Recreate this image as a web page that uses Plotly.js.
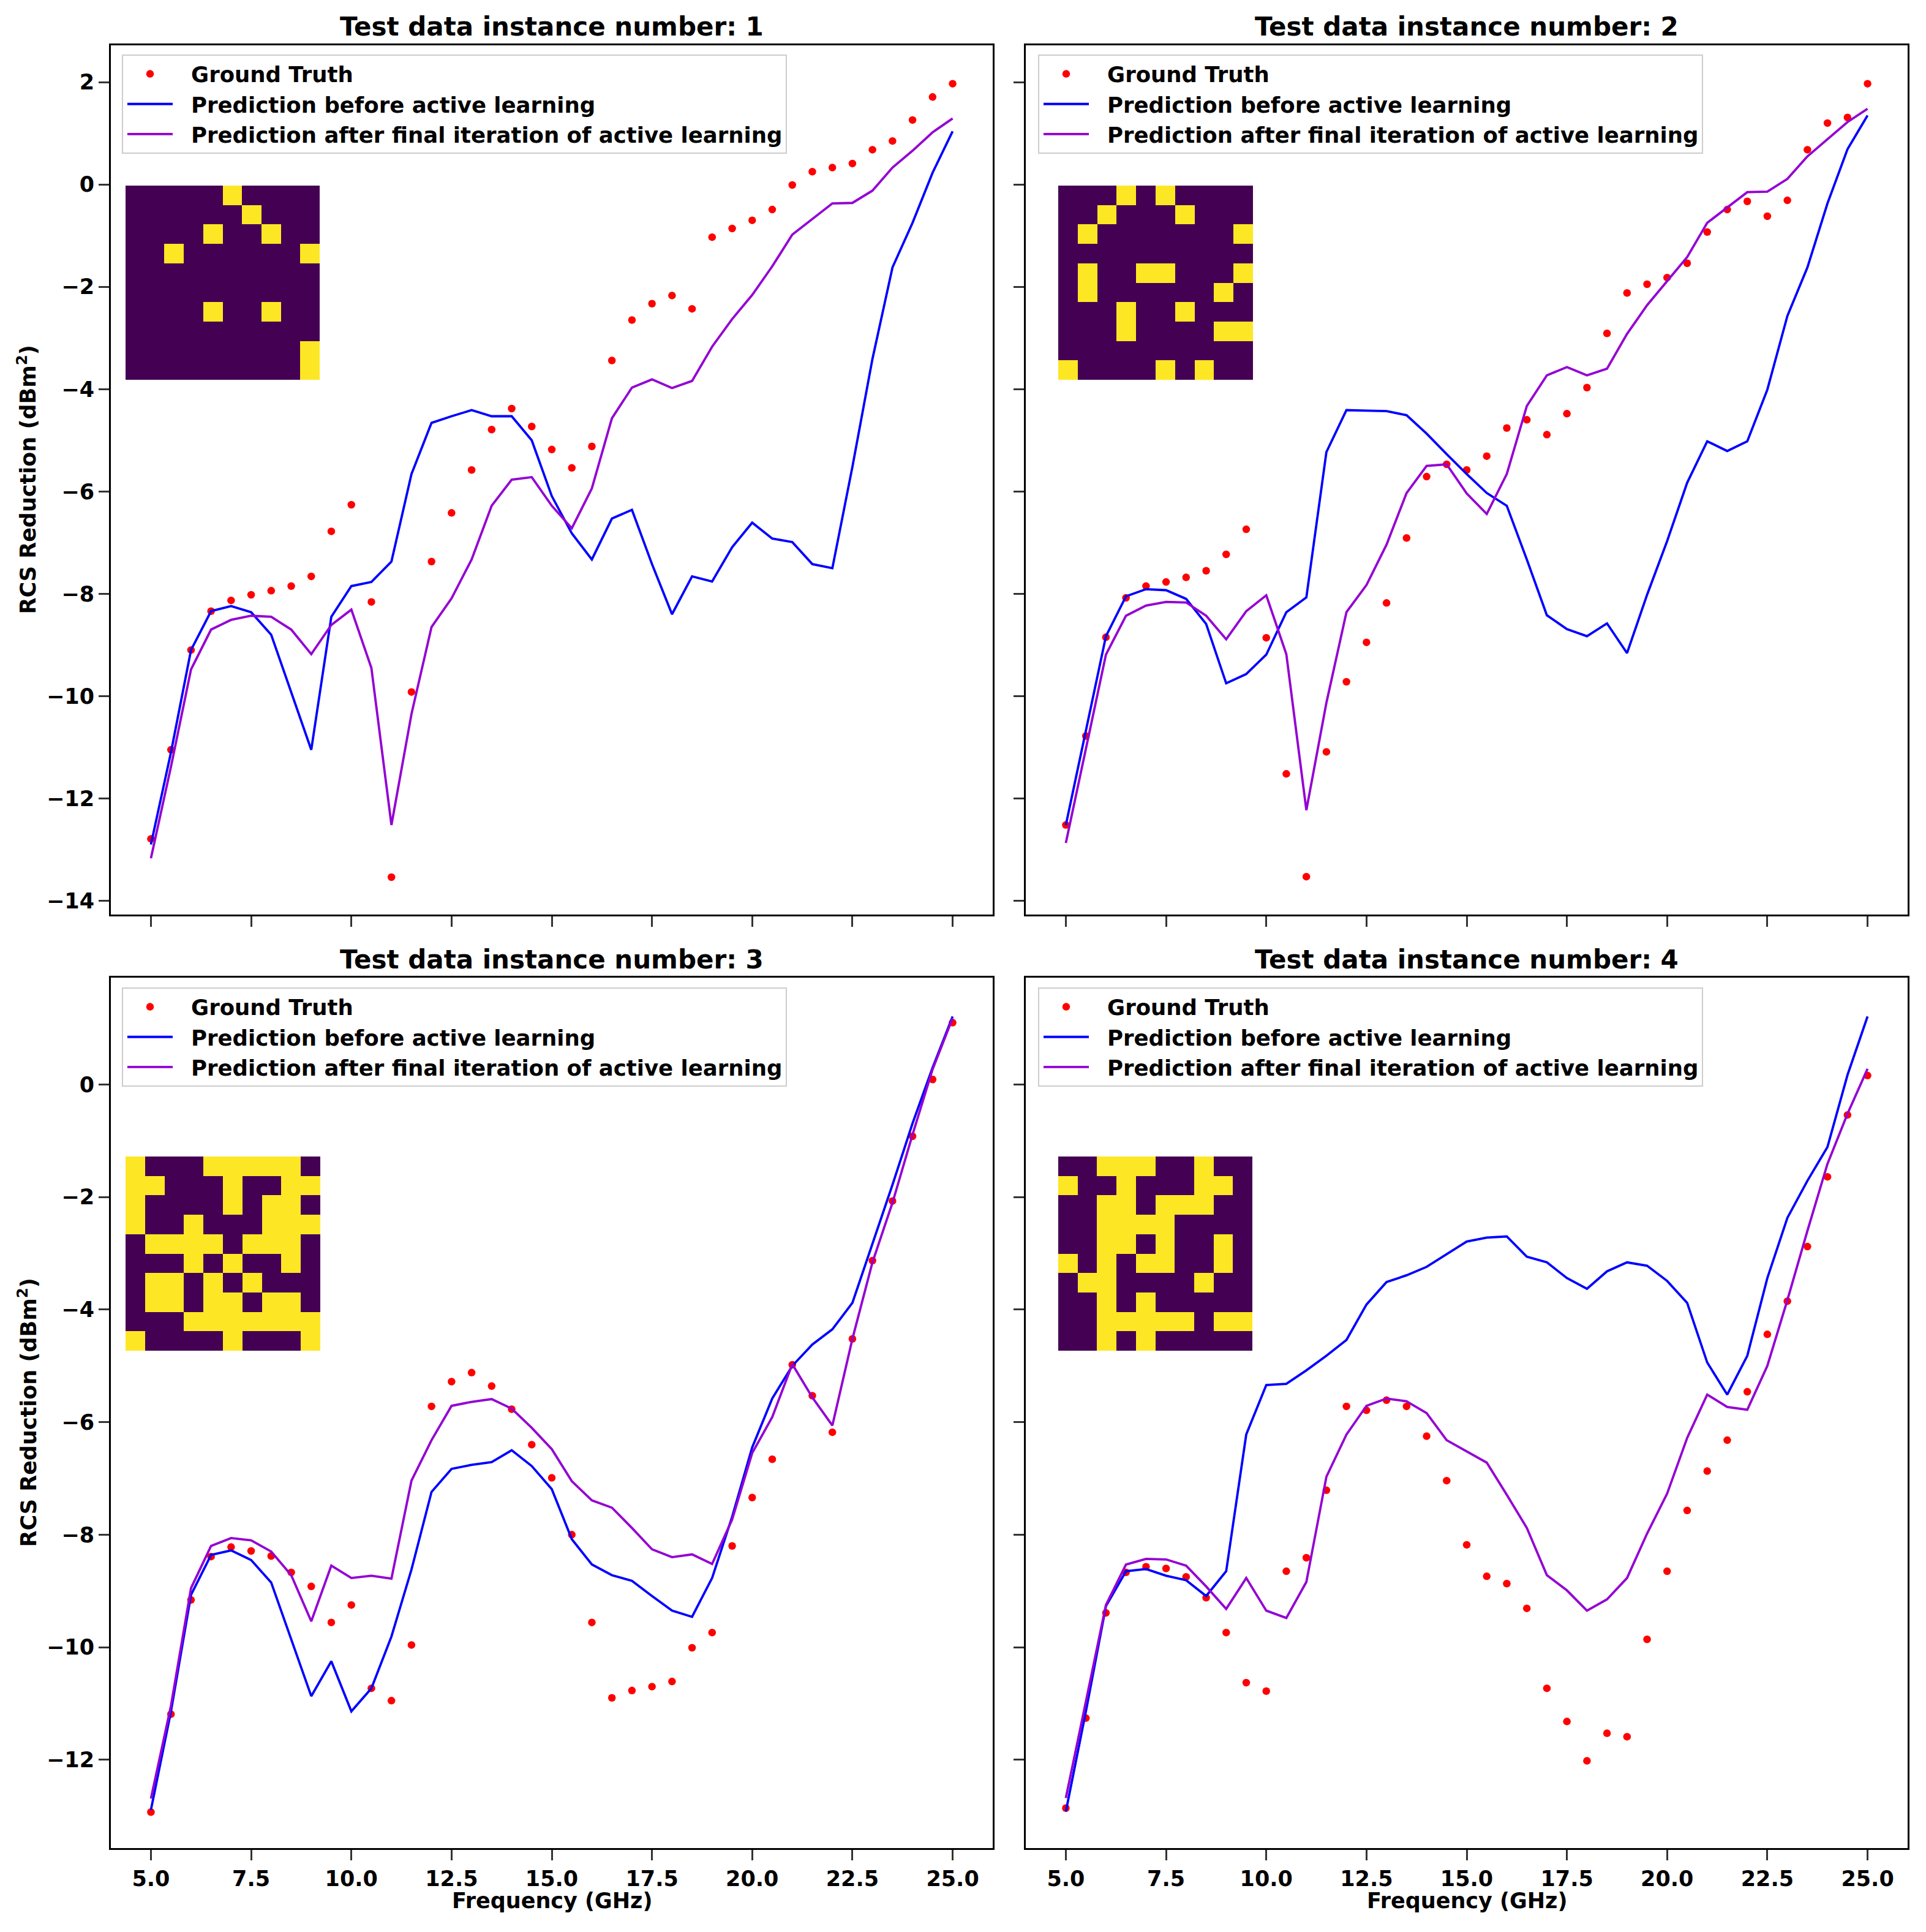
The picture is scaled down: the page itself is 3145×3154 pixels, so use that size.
<!DOCTYPE html>
<html>
<head>
<meta charset="utf-8">
<script src="https://cdn.plot.ly/plotly-3.0.1.min.js"></script>
<style>html,body{margin:0;padding:0;background:#fff;}#chart{width:3145px;height:3154px;}</style>
</head>
<body>
<div id="chart"></div>
<script>
// ---------- data ----------
const freq = [5.0,5.5,6.0,6.5,7.0,7.5,8.0,8.5,9.0,9.5,10.0,10.5,11.0,11.5,12.0,12.5,13.0,13.5,14.0,14.5,15.0,15.5,16.0,16.5,17.0,17.5,18.0,18.5,19.0,19.5,20.0,20.5,21.0,21.5,22.0,22.5,23.0,23.5,24.0,24.5,25.0];
const xTickVals = [5.0,7.5,10.0,12.5,15.0,17.5,20.0,22.5,25.0];
const xTickText = ["5.0","7.5","10.0","12.5","15.0","17.5","20.0","22.5","25.0"];

const gt1 = [-12.79,-11.05,-9.10,-8.34,-8.13,-8.02,-7.94,-7.85,-7.66,-6.78,-6.26,-8.16,-13.54,-9.92,-7.37,-6.42,-5.58,-4.79,-4.38,-4.73,-5.18,-5.54,-5.12,-3.44,-2.65,-2.33,-2.17,-2.43,-1.03,-0.86,-0.70,-0.49,-0.01,0.25,0.33,0.41,0.68,0.85,1.26,1.71,1.97];
const before1 = [-12.90,-11.10,-9.10,-8.34,-8.24,-8.36,-8.80,-9.92,-11.05,-8.45,-7.85,-7.77,-7.37,-5.66,-4.66,-4.53,-4.41,-4.53,-4.53,-5.00,-6.09,-6.82,-7.33,-6.53,-6.36,-7.42,-8.40,-7.66,-7.76,-7.09,-6.61,-6.92,-6.99,-7.42,-7.50,-5.52,-3.41,-1.62,-0.75,0.23,1.04];
const after1 = [-13.17,-11.38,-9.48,-8.70,-8.51,-8.43,-8.45,-8.70,-9.18,-8.61,-8.31,-9.45,-12.52,-10.35,-8.65,-8.09,-7.33,-6.28,-5.77,-5.72,-6.28,-6.72,-5.94,-4.57,-3.97,-3.81,-3.98,-3.84,-3.17,-2.63,-2.16,-1.60,-0.98,-0.67,-0.37,-0.36,-0.12,0.33,0.66,1.02,1.29];

const gt2 = [-12.52,-10.78,-8.85,-8.08,-7.85,-7.77,-7.68,-7.55,-7.23,-6.74,-8.86,-11.52,-13.53,-11.09,-9.72,-8.95,-8.18,-6.91,-5.71,-5.47,-5.58,-5.31,-4.76,-4.60,-4.89,-4.48,-3.97,-2.91,-2.12,-1.95,-1.82,-1.54,-0.93,-0.49,-0.33,-0.62,-0.31,0.68,1.20,1.31,1.97];
const before2 = [-12.52,-10.67,-8.83,-8.05,-7.91,-7.93,-8.10,-8.59,-9.75,-9.57,-9.19,-8.36,-8.07,-5.23,-4.41,-4.42,-4.43,-4.51,-4.87,-5.27,-5.66,-6.03,-6.28,-7.33,-8.42,-8.69,-8.83,-8.58,-9.16,-8.02,-6.97,-5.83,-5.02,-5.21,-5.02,-4.01,-2.57,-1.62,-0.37,0.69,1.35];
const after2 = [-12.87,-11.05,-9.19,-8.43,-8.23,-8.16,-8.17,-8.43,-8.89,-8.34,-8.03,-9.18,-12.23,-10.13,-8.36,-7.83,-7.04,-6.03,-5.50,-5.47,-6.04,-6.44,-5.66,-4.33,-3.73,-3.57,-3.73,-3.60,-2.92,-2.36,-1.89,-1.42,-0.75,-0.45,-0.15,-0.14,0.11,0.55,0.88,1.22,1.48];

const gt3 = [-12.93,-11.19,-9.16,-8.39,-8.22,-8.29,-8.38,-8.67,-8.92,-9.56,-9.25,-10.73,-10.95,-9.96,-5.72,-5.28,-5.12,-5.36,-5.77,-6.40,-6.99,-8.00,-9.56,-10.90,-10.77,-10.70,-10.61,-10.01,-9.74,-8.20,-7.34,-6.66,-4.98,-5.53,-6.18,-4.52,-3.13,-2.07,-0.92,0.09,1.10];
const before3 = [-12.89,-11.14,-9.07,-8.36,-8.28,-8.45,-8.85,-9.86,-10.87,-10.25,-11.14,-10.73,-9.81,-8.62,-7.24,-6.83,-6.76,-6.71,-6.50,-6.78,-7.19,-8.08,-8.53,-8.72,-8.82,-9.09,-9.35,-9.46,-8.77,-7.68,-6.45,-5.58,-5.00,-4.62,-4.35,-3.88,-2.84,-1.78,-0.69,0.30,1.21];
const after3 = [-12.69,-11.04,-8.95,-8.20,-8.06,-8.10,-8.30,-8.72,-9.54,-8.55,-8.77,-8.73,-8.78,-7.04,-6.32,-5.71,-5.64,-5.59,-5.76,-6.10,-6.48,-7.05,-7.39,-7.52,-7.88,-8.26,-8.40,-8.35,-8.52,-7.73,-6.55,-5.91,-4.97,-5.56,-6.06,-4.52,-3.16,-2.10,-0.89,0.27,1.18];

const gt4 = [-12.86,-11.26,-9.39,-8.67,-8.57,-8.60,-8.75,-9.12,-9.74,-10.63,-10.78,-8.65,-8.41,-7.21,-5.72,-5.79,-5.61,-5.72,-6.25,-7.04,-8.18,-8.74,-8.87,-9.31,-10.73,-11.32,-12.02,-11.53,-11.59,-9.86,-8.65,-7.57,-6.87,-6.32,-5.46,-4.44,-3.85,-2.88,-1.64,-0.54,0.16];
const before4 = [-12.92,-11.14,-9.27,-8.65,-8.61,-8.73,-8.81,-9.09,-8.65,-6.22,-5.34,-5.32,-5.08,-4.82,-4.54,-3.91,-3.51,-3.39,-3.24,-3.01,-2.79,-2.72,-2.70,-3.06,-3.16,-3.44,-3.63,-3.32,-3.16,-3.22,-3.49,-3.88,-4.94,-5.51,-4.82,-3.44,-2.37,-1.71,-1.11,0.17,1.21];
const after4 = [-12.68,-10.99,-9.25,-8.53,-8.43,-8.44,-8.55,-8.92,-9.32,-8.77,-9.35,-9.48,-8.84,-6.97,-6.22,-5.71,-5.58,-5.63,-5.84,-6.32,-6.52,-6.72,-7.29,-7.88,-8.72,-8.99,-9.35,-9.15,-8.77,-7.98,-7.27,-6.28,-5.51,-5.73,-5.78,-5.00,-3.83,-2.60,-1.41,-0.52,0.28];

// 10x10 unit-cell patterns shown as insets (1 = yellow)
const pattern1 = [
 [0,0,0,0,0,1,0,0,0,0],[0,0,0,0,0,0,1,0,0,0],[0,0,0,0,1,0,0,1,0,0],[0,0,1,0,0,0,0,0,0,1],[0,0,0,0,0,0,0,0,0,0],
 [0,0,0,0,0,0,0,0,0,0],[0,0,0,0,1,0,0,1,0,0],[0,0,0,0,0,0,0,0,0,0],[0,0,0,0,0,0,0,0,0,1],[0,0,0,0,0,0,0,0,0,1]];
const pattern2 = [
 [0,0,0,1,0,1,0,0,0,0],[0,0,1,0,0,0,1,0,0,0],[0,1,0,0,0,0,0,0,0,1],[0,0,0,0,0,0,0,0,0,0],[0,1,0,0,1,1,0,0,0,1],
 [0,1,0,0,0,0,0,0,1,0],[0,0,0,1,0,0,1,0,0,0],[0,0,0,1,0,0,0,0,1,1],[0,0,0,0,0,0,0,0,0,0],[1,0,0,0,0,1,0,1,0,0]];
const pattern3 = [
 [1,0,0,0,1,1,1,1,1,0],[1,1,0,0,0,1,0,0,1,1],[1,0,0,0,0,1,0,1,1,0],[1,0,0,1,0,0,0,1,1,1],[0,1,1,1,1,0,1,1,1,0],
 [0,0,0,1,0,1,0,0,1,0],[0,1,1,0,1,0,1,0,0,0],[0,1,1,0,1,1,0,1,1,0],[0,0,0,1,1,1,1,1,1,1],[1,0,0,0,0,1,0,0,0,1]];
const pattern4 = [
 [0,0,1,1,1,0,0,1,0,0],[1,0,0,1,0,0,0,1,1,0],[0,0,1,1,0,1,1,1,0,0],[0,0,1,1,1,1,0,0,0,0],[0,0,1,1,0,1,0,0,1,0],
 [1,0,1,0,1,1,0,0,1,0],[0,1,1,0,0,0,0,1,0,0],[0,0,1,0,1,0,0,0,0,0],[0,0,1,1,1,1,1,0,1,1],[0,0,1,0,1,0,0,0,0,0]];

const panelTitles = ["Test data instance number: 1","Test data instance number: 2","Test data instance number: 3","Test data instance number: 4"];
const seriesNames = ["Ground Truth","Prediction before active learning","Prediction after final iteration of active learning"];

// ---------- layout geometry (pixels) ----------
const W = 3145, H = 3154;
const FONT = "DejaVu Sans";
const px = v => v / W;
const py = v => 1 - v / H;
const colsX = [[181,1621],[1675,3115]];
const rowsY = [[74,1493],[1596,3017]];
const yRanges = [[-14.27,2.72],[-13.57,1.90]];
const insetBoxes = [[205,522,303,620],[1728,2046,303,620],[205,523,1888,2205],[1728,2045,1888,2205]];
const legendPos = [[199,89],[1695,89],[199,1612],[1695,1612]];

const gts = [gt1,gt2,gt3,gt4];
const befores = [before1,before2,before3,before4];
const afters = [after1,after2,after3,after4];
const patterns = [pattern1,pattern2,pattern3,pattern4];

const tickFont = {family:FONT, size:35, color:"black", weight:"bold"};
const labelFont = {family:FONT, size:35, color:"black", weight:"bold"};
const data = [];
const layout = {
  width: W, height: H,
  margin: {l:0,r:0,t:0,b:0},
  paper_bgcolor: "white", plot_bgcolor: "white",
  font: {family: FONT, color: "black"},
  showlegend: true,
  annotations: [],
};

for (let i = 0; i < 4; i++) {
  const col = i % 2, row = Math.floor(i / 2);
  const n = i + 1;
  const xa = n === 1 ? "x" : "x" + n;
  const ya = n === 1 ? "y" : "y" + n;
  const lg = n === 1 ? "legend" : "legend" + n;

  data.push({type:"scatter", mode:"markers", x:freq, y:gts[i], name:seriesNames[0], xaxis:xa, yaxis:ya, legend:lg,
             marker:{color:"#ff0000", size:12.5}});
  data.push({type:"scatter", mode:"lines", x:freq, y:befores[i], name:seriesNames[1], xaxis:xa, yaxis:ya, legend:lg,
             line:{color:"#0000ff", width:3.8}});
  data.push({type:"scatter", mode:"lines", x:freq, y:afters[i], name:seriesNames[2], xaxis:xa, yaxis:ya, legend:lg,
             line:{color:"#9400d3", width:3.8}});

  const xKey = n === 1 ? "xaxis" : "xaxis" + n;
  const yKey = n === 1 ? "yaxis" : "yaxis" + n;
  layout[xKey] = {
    domain:[px(colsX[col][0]), px(colsX[col][1])], anchor: ya,
    range:[4,26], tickvals:xTickVals, ticktext:xTickText,
    showticklabels: row === 1,
    ticks:"outside", ticklen:17, tickwidth:3, tickcolor:"#333",
    showline:true, mirror:true, linecolor:"black", linewidth:3,
    showgrid:false, zeroline:false, tickfont:tickFont,
  };
  layout[yKey] = {
    domain:[py(rowsY[row][1]), py(rowsY[row][0])], anchor: xa,
    range:yRanges[row], dtick:2, tick0:0,
    showticklabels: col === 0,
    ticks:"outside", ticklen:17, tickwidth:3, tickcolor:"#333",
    showline:true, mirror:true, linecolor:"black", linewidth:3,
    showgrid:false, zeroline:false, tickfont:tickFont,
  };

  // legend
  layout[lg] = {
    x: px(legendPos[i][0]), y: py(legendPos[i][1]), xref:"paper", yref:"paper",
    xanchor:"left", yanchor:"top",
    bgcolor:"rgba(255,255,255,0.8)", bordercolor:"#cccccc", borderwidth:2,
    font:{family:FONT, size:35.5, color:"black", weight:"bold"},
    itemwidth:101, tracegroupgap:0,
  };

  // inset heatmap
  const hx = "x" + (n + 4), hy = "y" + (n + 4);
  data.push({type:"heatmap", z:patterns[i], xaxis:hx, yaxis:hy, showscale:false, hoverinfo:"skip",
             zmin:0, zmax:1, colorscale:[[0,"#440154"],[1,"#fde725"]], showlegend:false});
  const b = insetBoxes[i];
  layout["xaxis" + (n + 4)] = {domain:[px(b[0]), px(b[1])], anchor:hy, visible:false, showgrid:false, zeroline:false, range:[-0.5,9.5]};
  layout["yaxis" + (n + 4)] = {domain:[py(b[3]), py(b[2])], anchor:hx, visible:false, showgrid:false, zeroline:false, range:[9.5,-0.5]};

  // panel title
  layout.annotations.push({text:panelTitles[i], xref:"paper", yref:"paper",
    x:px((colsX[col][0]+colsX[col][1])/2), y:py(rowsY[row][0]-30), xanchor:"center", yanchor:"middle",
    showarrow:false, font:{family:FONT, size:42, color:"black", weight:"bold"}});
}

// axis titles
const yLabel = "RCS Reduction (dBm<sup>2</sup>)";
const xLabel = "Frequency (GHz)";
for (let row = 0; row < 2; row++) {
  layout.annotations.push({text:yLabel, xref:"paper", yref:"paper", x:px(44), y:py((rowsY[row][0]+rowsY[row][1])/2),
    xanchor:"center", yanchor:"middle", textangle:-90, showarrow:false, font:labelFont});
}
for (let col = 0; col < 2; col++) {
  layout.annotations.push({text:xLabel, xref:"paper", yref:"paper", x:px((colsX[col][0]+colsX[col][1])/2), y:py(3103),
    xanchor:"center", yanchor:"middle", showarrow:false, font:labelFont});
}

// matplotlib-style legend handles: shorter line with the marker centred on it
function fixLegendHandles(gd) {
  const items = gd.querySelectorAll("g.traces");
  items.forEach(item => {
    item.querySelectorAll("path").forEach(p => {
      const d = p.getAttribute("d") || "";
      if (/^M\s*5\s*,\s*0\s*h/.test(d)) p.setAttribute("d", "M7,0h74");
      if (p.classList.contains("scatterpts")) p.setAttribute("transform", "translate(44,0)");
    });
  });
}

const gdiv = document.getElementById("chart");
Plotly.newPlot(gdiv, data, layout, {staticPlot:true, displayModeBar:false}).then(gd => {
  fixLegendHandles(gd);
  if (gd.on) gd.on("plotly_afterplot", () => fixLegendHandles(gd));
  setTimeout(() => fixLegendHandles(gd), 0);
});
</script>
</body>
</html>
